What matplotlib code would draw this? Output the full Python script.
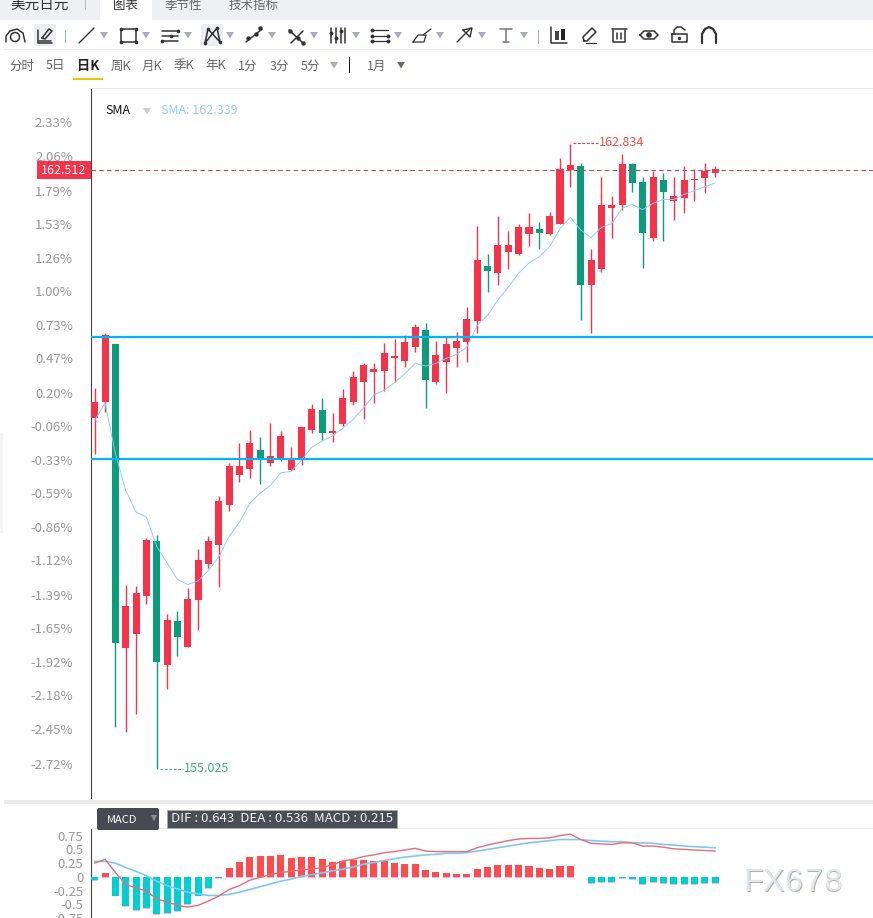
import matplotlib

matplotlib.use('Agg')

import matplotlib.pyplot as plt
from matplotlib.patches import Circle, FancyBboxPatch, Rectangle

plt.rcParams['font.family'] = ['Noto Sans CJK SC', 'DejaVu Sans']

# daily candles, in percent from the chart's base price
opens = [0.00, 0.13, 0.58, -1.81, -1.70, -1.40, -0.97, -1.94, -1.60, -1.80,
         -1.43, -1.15, -1.00, -0.68, -0.45, -0.40, -0.25, -0.35, -0.33, -0.41,
         -0.33, -0.09, 0.06, -0.12, -0.05, 0.13, 0.28, 0.36, 0.37, 0.47,
         0.45, 0.56, 0.69, 0.28, 0.44, 0.55, 0.60, 0.76, 1.20, 1.14,
         1.31, 1.29, 1.45, 1.49, 1.45, 1.53, 1.95, 1.98, 1.05, 1.17,
         1.65, 1.68, 2.00, 1.86, 1.42, 1.87, 1.71, 1.73, 1.87, 1.89, 1.93]
highs = [0.24, 0.67, 0.58, -1.31, -1.32, -0.94, -0.92, -1.54, -1.52, -1.34,
         -1.03, -0.93, -0.61, -0.35, -0.20, -0.09, -0.15, -0.04, -0.10, -0.23,
         -0.07, 0.11, 0.16, 0.04, 0.23, 0.37, 0.43, 0.43, 0.59, 0.62,
         0.65, 0.74, 0.75, 0.61, 0.64, 0.68, 0.87, 1.51, 1.29, 1.59,
         1.47, 1.53, 1.61, 1.54, 1.62, 2.05, 2.16, 2.01, 1.33, 1.90,
         1.75, 2.08, 2.01, 1.90, 1.94, 1.93, 1.90, 1.98, 1.96, 2.01, 1.98]
lows = [-0.28, 0.05, -2.43, -2.47, -2.33, -1.46, -2.76, -2.13, -1.87, -1.80,
        -1.67, -1.18, -1.33, -0.73, -0.50, -0.47, -0.52, -0.38, -0.34, -0.42,
        -0.37, -0.12, -0.17, -0.19, -0.06, 0.10, -0.01, 0.12, 0.21, 0.28,
        0.40, 0.52, 0.08, 0.27, 0.20, 0.40, 0.44, 0.67, 0.99, 1.05,
        1.17, 1.28, 1.35, 1.33, 1.44, 1.53, 1.82, 0.77, 0.67, 1.15,
        1.42, 1.64, 1.78, 1.18, 1.39, 1.39, 1.56, 1.61, 1.71, 1.77, 1.90]
closes = [0.13, 0.65, -1.77, -1.48, -1.38, -0.96, -1.92, -1.59, -1.72, -1.42,
          -1.12, -0.97, -0.65, -0.38, -0.38, -0.20, -0.32, -0.30, -0.14, -0.33,
          -0.07, 0.07, -0.12, -0.10, 0.16, 0.32, 0.42, 0.39, 0.51, 0.49,
          0.60, 0.72, 0.30, 0.50, 0.58, 0.61, 0.78, 1.24, 1.16, 1.36,
          1.36, 1.50, 1.50, 1.46, 1.59, 1.96, 1.99, 1.05, 1.24, 1.68,
          1.68, 2.00, 1.85, 1.46, 1.90, 1.78, 1.75, 1.87, 1.88, 1.94, 1.96]
sma = [-0.02, 0.12, -0.28, -0.57, -0.74, -0.78, -1.01, -1.14, -1.27, -1.31,
       -1.28, -1.20, -1.09, -0.93, -0.82, -0.67, -0.59, -0.53, -0.43, -0.42,
       -0.33, -0.23, -0.18, -0.14, -0.08, -0.01, 0.08, 0.18, 0.22, 0.28,
       0.35, 0.43, 0.41, 0.43, 0.47, 0.50, 0.56, 0.73, 0.81, 0.93,
       1.03, 1.14, 1.22, 1.27, 1.35, 1.49, 1.58, 1.48, 1.42, 1.50,
       1.53, 1.65, 1.68, 1.64, 1.69, 1.72, 1.72, 1.76, 1.79, 1.82, 1.85]

price_ticks = [2.33, 2.06, 1.79, 1.53, 1.26, 1.00, 0.73, 0.47, 0.20, -0.06, -0.33,
               -0.59, -0.86, -1.12, -1.39, -1.65, -1.92, -2.18, -2.45, -2.72]
support_levels = [0.634, -0.322]
last_level = 1.953

macd = [-0.05, 0.07, -0.34, -0.54, -0.61, -0.56, -0.68, -0.65, -0.63, -0.50,
        -0.34, -0.20, -0.02, 0.16, 0.27, 0.36, 0.38, 0.38, 0.40, 0.34,
        0.36, 0.36, 0.32, 0.27, 0.29, 0.31, 0.31, 0.29, 0.29, 0.25,
        0.23, 0.23, 0.13, 0.09, 0.07, 0.05, 0.05, 0.14, 0.18, 0.22,
        0.22, 0.22, 0.20, 0.16, 0.14, 0.20, 0.20, 0.00, -0.11, -0.09,
        -0.09, -0.02, -0.04, -0.13, -0.10, -0.11, -0.13, -0.13, -0.13, -0.11, -0.11]
dif = [0.25, 0.32, 0.08, -0.14, -0.20, -0.26, -0.40, -0.46, -0.52, -0.55,
       -0.52, -0.44, -0.35, -0.23, -0.16, -0.06, -0.01, 0.04, 0.08, 0.10,
       0.13, 0.14, 0.17, 0.22, 0.29, 0.32, 0.37, 0.40, 0.44, 0.46,
       0.49, 0.52, 0.47, 0.46, 0.46, 0.46, 0.46, 0.53, 0.58, 0.62,
       0.66, 0.69, 0.70, 0.70, 0.71, 0.75, 0.78, 0.68, 0.61, 0.60,
       0.59, 0.62, 0.62, 0.56, 0.56, 0.54, 0.51, 0.50, 0.49, 0.48, 0.47]
dea = [0.28, 0.28, 0.25, 0.17, 0.10, 0.02, -0.08, -0.16, -0.22, -0.28,
       -0.31, -0.34, -0.34, -0.32, -0.28, -0.23, -0.18, -0.13, -0.08, -0.04,
       0.01, 0.04, 0.07, 0.11, 0.14, 0.18, 0.23, 0.26, 0.30, 0.33,
       0.36, 0.38, 0.40, 0.41, 0.43, 0.43, 0.44, 0.47, 0.50, 0.53,
       0.56, 0.59, 0.62, 0.64, 0.66, 0.68, 0.68, 0.68, 0.66, 0.65,
       0.64, 0.64, 0.62, 0.62, 0.61, 0.59, 0.58, 0.56, 0.55, 0.54, 0.53]
macd_ticks = [0.75, 0.5, 0.25, 0, -0.25, -0.5, -0.75]
macd_labels = ['0.75', '0.5', '0.25', '0', '-0.25', '-0.5', '-0.75']

tabs = [('美元日元', 40, '#333333', 10.5), ('图表', 125, '#333333', 9),
        ('季节性', 183, '#666666', 9), ('技术指标', 254, '#666666', 9)]
periods = [('分时', 22), ('5日', 55), ('周K', 121), ('月K', 152), ('季K', 184),
           ('年K', 216), ('1分', 248), ('3分', 279), ('5分', 310), ('1月', 377)]

W, H = 873, 918
UP = '#f5334a'
DOWN = '#0c9c7c'
AXIS = '#444444'
TICK = '#999999'

fig = plt.figure(figsize=(W / 100, H / 100), dpi=100)


def px_axes(x0, y0, x1, y1, **kw):
    return fig.add_axes([x0 / W, 1 - y1 / H, (x1 - x0) / W, (y1 - y0) / H], **kw)


x = list(range(len(closes)))
xlim = (-0.36, 75.27)

# price panel
ax = px_axes(91, 89, 873, 798)
ax.set_xlim(*xlim)
ax.set_ylim(-2.989, 2.589)
ax.patch.set_alpha(0)
for name in ['top', 'right', 'bottom']:
    ax.spines[name].set_visible(False)
ax.spines['left'].set_color(AXIS)
ax.set_xticks([])
ax.set_yticks(price_ticks)
ax.set_yticklabels([f'{t:.2f}%' for t in price_ticks], fontsize=9.5, color=TICK)
ax.tick_params(axis='y', length=0, pad=13)

colors = [UP if c >= o else DOWN for o, c in zip(opens, closes)]
ax.vlines(x, lows, highs, colors=colors, linewidth=1.0, zorder=2)
ax.bar(x, [abs(c - o) for o, c in zip(opens, closes)],
       bottom=[min(o, c) for o, c in zip(opens, closes)],
       width=0.68, color=colors, zorder=3)
ax.plot(x, sma, color='#85cbff', linewidth=0.65, zorder=4)
for level in support_levels:
    ax.axhline(level, color='#00b4ff', linewidth=1.6, zorder=5)
ax.axhline(last_level, color='#b5525c', linewidth=0.8, linestyle=(0, (4, 3)), zorder=5)

# MACD panel
mx = px_axes(91, 828, 873, 918)
mx.set_xlim(*xlim)
mx.set_ylim(-0.728, 0.89)
mx.patch.set_alpha(0)
for name in ['right', 'bottom']:
    mx.spines[name].set_visible(False)
mx.spines['left'].set_color(AXIS)
mx.spines['top'].set_color('#eeeeee')
mx.set_xticks([])
mx.set_yticks(macd_ticks)
mx.set_yticklabels(macd_labels, fontsize=9.5, color=TICK)
mx.tick_params(axis='y', length=0, pad=5.5)
mx.bar(x, macd, bottom=-0.018, width=0.68, color='#f6b3ee', zorder=2)
mx.bar(x, macd, width=0.68, color=['#ff4d4f' if m >= 0 else '#00cfd2' for m in macd], zorder=3)
mx.plot(x, dea, color='#7cc8fb', linewidth=1.2, zorder=4)
mx.plot(x, dif, color='#ea6a78', linewidth=1.0, zorder=5)

# everything around the chart: tabs, toolbar, labels, in pixel coordinates
ui = px_axes(0, 0, W, H)
ui.set_xlim(0, W)
ui.set_ylim(H, 0)
ui.axis('off')
ui.patch.set_alpha(0)


def rect(x0, y0, x1, y1, color):
    ui.add_patch(Rectangle((x0, y0), x1 - x0, y1 - y0, color=color, linewidth=0))


def tri(cx, cy, color='#a9acbb', r=4):
    ui.fill([cx - r, cx + r, cx], [cy - 3, cy - 3, cy + 3.5], color=color, linewidth=0)


def seg(points, color='#333333', lw=1.1):
    ui.plot([p[0] for p in points], [p[1] for p in points], color=color, linewidth=lw,
            solid_capstyle='round')


def dots(points, color='#333333', s=7):
    ui.scatter([p[0] for p in points], [p[1] for p in points], s=s, color=color, linewidths=0, zorder=6)


# top tab strip
rect(0, 0, W, 20, '#eff0f4')
rect(100, 0, 152, 20, 'white')
rect(85, 0, 86, 10, '#b9bcc4')
for label, cx, color, size in tabs:
    ui.text(cx, 5, label, ha='center', va='center', fontsize=size, color=color, clip_on=True)

rect(4, 49, W, 50, '#eeeeee')
rect(91, 88, W, 89, '#e8e8e8')
rect(4, 800, W, 804, '#ebebeb')
rect(0, 433, 3, 533, '#f3f4f6')

# drawing toolbar
for x0, x1 in [(34, 56), (201, 223)]:
    ui.add_patch(FancyBboxPatch((x0 + 2, 26), x1 - x0 - 4, 18, boxstyle='round,pad=2',
                                color='#edeef2', linewidth=0))
for cx in [104, 146, 188, 230, 272, 314, 356, 398, 440, 482, 524]:
    tri(cx, 35)
rect(65, 30, 66, 43, '#7fc7a0')
rect(538, 30, 539, 44, '#b9a7dc')

ui.add_patch(Circle((15, 37), 4.5, fill=False, edgecolor='#333333', linewidth=1.1))
seg([(6, 42), (6, 36), (10, 31), (17, 29), (23, 33), (25, 42)])
seg([(39, 41), (51, 41)])
seg([(38, 30), (38, 43), (52, 43)])
seg([(42, 38), (49, 29), (52, 31), (45, 39), (42, 38)])
seg([(79, 43), (94, 28)], lw=1.0)
seg([(121, 29), (136, 29), (136, 42), (121, 42), (121, 29)])
dots([(121, 29), (136, 29), (136, 42), (121, 42)])
for yy in (31, 36, 41):
    seg([(162, yy), (178, yy)])
dots([(178, 31), (171, 36), (162, 41)])
seg([(205, 43), (208, 29), (220, 42), (217, 28), (205, 43)])
dots([(205, 43), (208, 29), (220, 42), (217, 28)])
seg([(246, 42), (262, 29)])
dots([(248, 38), (256, 34), (260, 28)], s=10)
seg([(289, 30), (303, 43)])
seg([(291, 43), (303, 31)])
dots([(290, 31), (298, 38), (303, 43)], s=10)
for xx in (331, 336, 341, 345):
    seg([(xx, 28), (xx, 43)])
dots([(331, 33), (336, 38), (341, 31)], s=8)
for yy in (30, 36, 41):
    seg([(372, yy), (388, yy)], lw=0.9)
dots([(372, 30), (372, 36), (372, 41), (388, 36), (388, 41)], s=8)
seg([(413, 42), (418, 35), (426, 35), (424, 42), (413, 42)], lw=0.9)
seg([(423, 35), (431, 29)], lw=0.9)
seg([(457, 42), (471, 28)], lw=1.0)
seg([(463, 30), (472, 28), (470, 37), (463, 30)], lw=1.0)
seg([(500, 29), (512, 29)], color='#777777')
seg([(506, 29), (506, 42)], color='#777777')
seg([(503, 42), (509, 42)], color='#777777')
seg([(551, 27), (551, 43), (567, 43)])
rect(555, 31, 559, 40, '#444444')
rect(561, 29, 565, 40, '#222222')
seg([(584, 41), (583, 37), (592, 28), (596, 32), (587, 41), (584, 41)])
seg([(586, 43), (596, 43)], lw=0.9)
seg([(612, 29), (627, 29)])
seg([(613, 30), (613, 42), (625, 42), (625, 30)])
seg([(617, 33), (617, 39)])
seg([(621, 33), (621, 39)])
seg([(640, 35), (644, 31), (654, 31), (658, 35), (654, 39), (644, 39), (640, 35)])
ui.add_patch(Circle((649, 35), 2.8, color='#333333', linewidth=0))
seg([(672, 34), (672, 42), (687, 42), (687, 34), (672, 34)])
seg([(674, 34), (674, 30), (677, 27), (681, 27), (685, 30)])
dots([(679, 38)], s=6)
seg([(702, 43), (702, 34), (705, 29), (709, 27), (713, 29), (716, 34), (716, 43)], lw=1.6)

# period row
for label, cx in periods:
    ui.text(cx, 66, label, ha='center', va='center', fontsize=9, color='#666666')
ui.text(88, 66, '日K', ha='center', va='center', fontsize=9.5, color='#222222', fontweight='bold')
rect(73, 78, 103, 80, '#f5c400')
tri(334, 65)
rect(349, 57, 350, 73, '#111111')
tri(401, 65, color='#666a77')

# chart labels
ui.text(105, 110, 'SMA', ha='left', va='center', fontsize=9, color='#111111')
tri(147, 111, color='#c9ccd8')
ui.text(161, 110, 'SMA: 162.339', ha='left', va='center', fontsize=9, color='#93d0fb')

rect(37, 161, 91, 179, UP)
ui.text(64, 170, '162.512', ha='center', va='center', fontsize=9, color='white')
seg([(573, 143), (598, 143)], color=UP, lw=0.8)
ui.lines[-1].set_linestyle((0, (2.5, 1.5)))
ui.text(599, 143, '162.834', ha='left', va='center', fontsize=9, color='#ee5040')
seg([(160, 769), (183, 769)], color='#3db37f', lw=0.8)
ui.lines[-1].set_linestyle((0, (2.5, 1.5)))
ui.text(184, 769, '155.025', ha='left', va='center', fontsize=9, color='#3db37f')

# MACD legend boxes
ui.add_patch(FancyBboxPatch((99, 810), 58, 18, boxstyle='round,pad=2', color='#474a52', linewidth=0))
ui.text(122, 820, 'MACD', ha='center', va='center', fontsize=8, color='white')
tri(154, 818, color='#8a8d96', r=3)
ui.add_patch(Rectangle((166.5, 809.5), 230, 18, facecolor='#4a4d55', edgecolor='#a8aab0', linewidth=0.7))
ui.text(171, 819, 'DIF : 0.643  DEA : 0.536  MACD : 0.215', ha='left', va='center',
        fontsize=9.5, color='#f2f2f2')

# watermark
for i, ch in enumerate('FX678'):
    cx = 753 + i * 20
    ui.text(cx + 1, 884, ch, ha='center', va='center', fontsize=23, color='#bfae9f',
            family='Liberation Sans')
    ui.text(cx, 883, ch, ha='center', va='center', fontsize=23, color='#dde7f3',
            family='Liberation Sans')

fig.savefig('out.png', dpi=100)
